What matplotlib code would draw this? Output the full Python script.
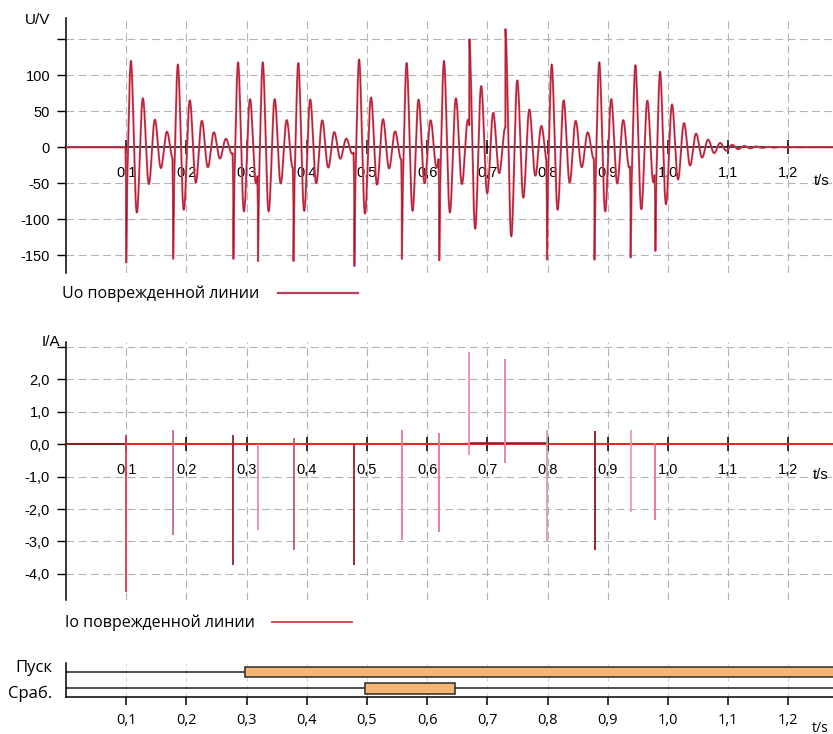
import numpy as np
import matplotlib.pyplot as plt
from matplotlib.lines import Line2D

# --- Uo: события (время, бросок, первый пик колебаний) ---
u_event_t = [0.100, 0.178, 0.278, 0.319, 0.378, 0.479, 0.558,
             0.620, 0.670, 0.730, 0.799, 0.878, 0.938, 0.979]
u_spike = [-160, -155, -155, -158, -158, -165, -155,
           -157, 0, 0, -156, -156, -153, -144]
u_peak = [120, 115, 118, 118, 117, 122, 117,
          120, 150, 164, 115, 118, 114, 105]
f_osc = 50.0      # Гц
tau_osc = 0.035   # с, затухание

# --- Io: выбросы тока ---
i_t = [0.100, 0.178, 0.278, 0.319, 0.378, 0.479, 0.558,
       0.620, 0.670, 0.730, 0.799, 0.878, 0.938, 0.979]
i_hi = [0.30, 0.45, 0.30, 0.0, 0.20, 0.0, 0.45,
        0.35, 2.86, 2.63, 0.45, 0.40, 0.45, 0.05]
i_lo = [-4.55, -2.80, -3.72, -2.66, -3.26, -3.72, -2.95,
        -2.70, -0.33, -0.58, -3.00, -3.26, -2.10, -2.33]
i_dark_seg = [(0.0, 0.100, 0.02), (0.670, 0.800, 0.05)]

# --- дискретные сигналы ---
pusk_on = [(0.298, 1.30)]
srab_on = [(0.496, 0.647)]

x_ticks = [0.1, 0.2, 0.3, 0.4, 0.5, 0.6, 0.7, 0.8, 0.9, 1.0, 1.1, 1.2]
x_labels = ['0,1', '0,2', '0,3', '0,4', '0,5', '0,6', '0,7', '0,8',
            '0,9', '1,0', '1,1', '1,2']
u_ticks = [150, 100, 50, 0, -50, -100, -150]
u_labels = ['', '100', '50', '0', '-50', '-100', '-150']
i_ticks = [3, 2, 1, 0, -1, -2, -3, -4]
i_labels = ['', '2,0', '1,0', '0,0', '-1,0', '-2,0', '-3,0', '-4,0']

W, H = 833, 734
T_MAX = (W - 66) / 602.0


def px_rect(x0, y0, x1, y1):
    return [x0 / W, 1 - y1 / H, (x1 - x0) / W, (y1 - y0) / H]


def build_u():
    t = np.arange(0, T_MAX, 0.0002)
    v = np.zeros_like(t)
    ev = list(zip(u_event_t, u_spike, u_peak))
    for k, (te, sp, pk) in enumerate(ev):
        t_end = ev[k + 1][0] if k + 1 < len(ev) else np.inf
        d = 0.008 if sp < 0 else 0.0
        m = (t >= te) & (t < t_end)
        dt = t[m] - te
        env = pk * np.exp(-np.clip(dt - d, 0, None) / tau_osc)
        v[m] = env * np.cos(2 * np.pi * f_osc * (dt - d))
    for te, sp, pk in ev:
        if sp < 0:
            i0 = np.searchsorted(t, te)
            tri = np.clip(1 - np.abs(t - te) / 0.0012, 0, None)
            v = v + (sp - v[i0]) * tri
    return t, v


grid_kw = dict(color='#b4b4b4', lw=0.8, ls=(0, (7, 4)))
tick_font = dict(family='Liberation Sans', size=10.5)
leg_font = dict(family='Open Sans', size=11.5)


def style_axis(ax, yt, yl, ylim):
    ax.set_xlim(0, T_MAX)
    ax.set_ylim(*ylim)
    for s in ['top', 'right']:
        ax.spines[s].set_visible(False)
    ax.spines['bottom'].set_position(('data', 0))
    ax.spines['left'].set_linewidth(1.1)
    ax.spines['bottom'].set_linewidth(1.1)
    ax.set_xticks(x_ticks)
    ax.set_xticklabels(x_labels, fontdict=tick_font)
    ax.set_yticks(yt)
    ax.set_yticklabels(yl, fontdict=tick_font)
    ax.tick_params(axis='x', direction='inout', length=9.5, width=1.1, pad=8.5)
    ax.tick_params(axis='y', direction='out', length=6.5, width=1.0, pad=5)
    for x in x_ticks:
        ax.axvline(x, zorder=0, **grid_kw)
    for y in yt:
        if y != 0:
            ax.axhline(y, zorder=0, **grid_kw)


fig = plt.figure(figsize=(W / 100, H / 100), dpi=100)

# Uo
ax1 = fig.add_axes(px_rect(66, 18, W, 273))
style_axis(ax1, u_ticks, u_labels, (-174.6, 179.6))
tu, vu = build_u()
ax1.plot(tu, vu, color='#e4455e', lw=1.5, zorder=3)
ax1.plot(tu, vu, color='#8c1c2c', lw=0.5, zorder=4)
fig.legend(handles=[Line2D([], [], color='#b8405a', lw=1.6)],
           labels=['Uo поврежденной линии'], markerfirst=False,
           frameon=False, loc='center left', bbox_to_anchor=(62 / W, 1 - 294 / H),
           borderpad=0, borderaxespad=0, handlelength=5.0, handletextpad=1.2,
           prop=leg_font)
fig.text(25 / W, 1 - 20 / H, 'U/V', fontsize=11, family='Liberation Sans', va='center')
fig.text(814 / W, 1 - 181 / H, 't/s', fontsize=10.5, family='Liberation Sans', va='center')

# Io
ax2 = fig.add_axes(px_rect(66, 342, W, 600))
style_axis(ax2, i_ticks, i_labels, (-4.806, 3.157))
ax2.plot([0, T_MAX], [0, 0], color='#e02a2a', lw=1.5, zorder=3)
for a, b, y in i_dark_seg:
    ax2.plot([a, b], [y, y], color='#6a2020', lw=1.1, zorder=4)
i_colors = ['#dc3a5a', '#c86878', '#a01c30', '#ec8ea0', '#cc5468', '#9c1828', '#ea7890',
            '#e27690', '#f28aa6', '#f07c98', '#d4a0aa', '#8c1020', '#e89cb0', '#f06c8c']
ax2.vlines(i_t, i_lo, i_hi, colors=i_colors, lw=1.3, zorder=5)
fig.legend(handles=[Line2D([], [], color='#d83a4c', lw=1.3)],
           labels=['Io поврежденной линии'], markerfirst=False,
           frameon=False, loc='center left', bbox_to_anchor=(65 / W, 1 - 623 / H),
           borderpad=0, borderaxespad=0, handlelength=5.0, handletextpad=1.1,
           prop=leg_font)
fig.text(42 / W, 1 - 342 / H, 'I/A', fontsize=11, family='Liberation Sans', va='center')
fig.text(813 / W, 1 - 475 / H, 't/s', fontsize=10.5, family='Liberation Sans', va='center')

# Пуск / Сраб.
ax3 = fig.add_axes(px_rect(66, 663, W, 697.3))
ax3.set_xlim(0, T_MAX)
ax3.set_ylim(-0.55, 1.55)
for s in ['top', 'right']:
    ax3.spines[s].set_visible(False)
ax3.spines['left'].set_linewidth(1.1)
ax3.spines['bottom'].set_linewidth(1.1)
ax3.set_yticks([])
ax3.set_xticks(x_ticks)
ax3.set_xticklabels(x_labels, fontdict=dict(family='Open Sans', size=10.5))
ax3.tick_params(axis='x', direction='out', length=6, width=1.1, pad=5)
for x in x_ticks:
    ax3.axvline(x, color='#d8d8d8', lw=0.8, ls=(0, (4, 3)), zorder=0)
for row, spans in [(1, pusk_on), (0, srab_on)]:
    ax3.plot([0, T_MAX], [row, row], color='#222222', lw=1.1, zorder=2)
    for a, b in spans:
        ax3.barh(row, b - a, left=a, height=0.65, color='#f5b673',
                 edgecolor='#2a2a2a', lw=1.1, zorder=3)
fig.text(52 / W, 1 - 668 / H, 'Пуск', fontsize=12, family='Open Sans', va='center', ha='right')
fig.text(52 / W, 1 - 694 / H, 'Сраб.', fontsize=12, family='Open Sans', va='center', ha='right')
fig.text(812 / W, 1 - 728 / H, 't/s', fontsize=10, family='Open Sans', va='center')

fig.savefig('out.png', dpi=100)
